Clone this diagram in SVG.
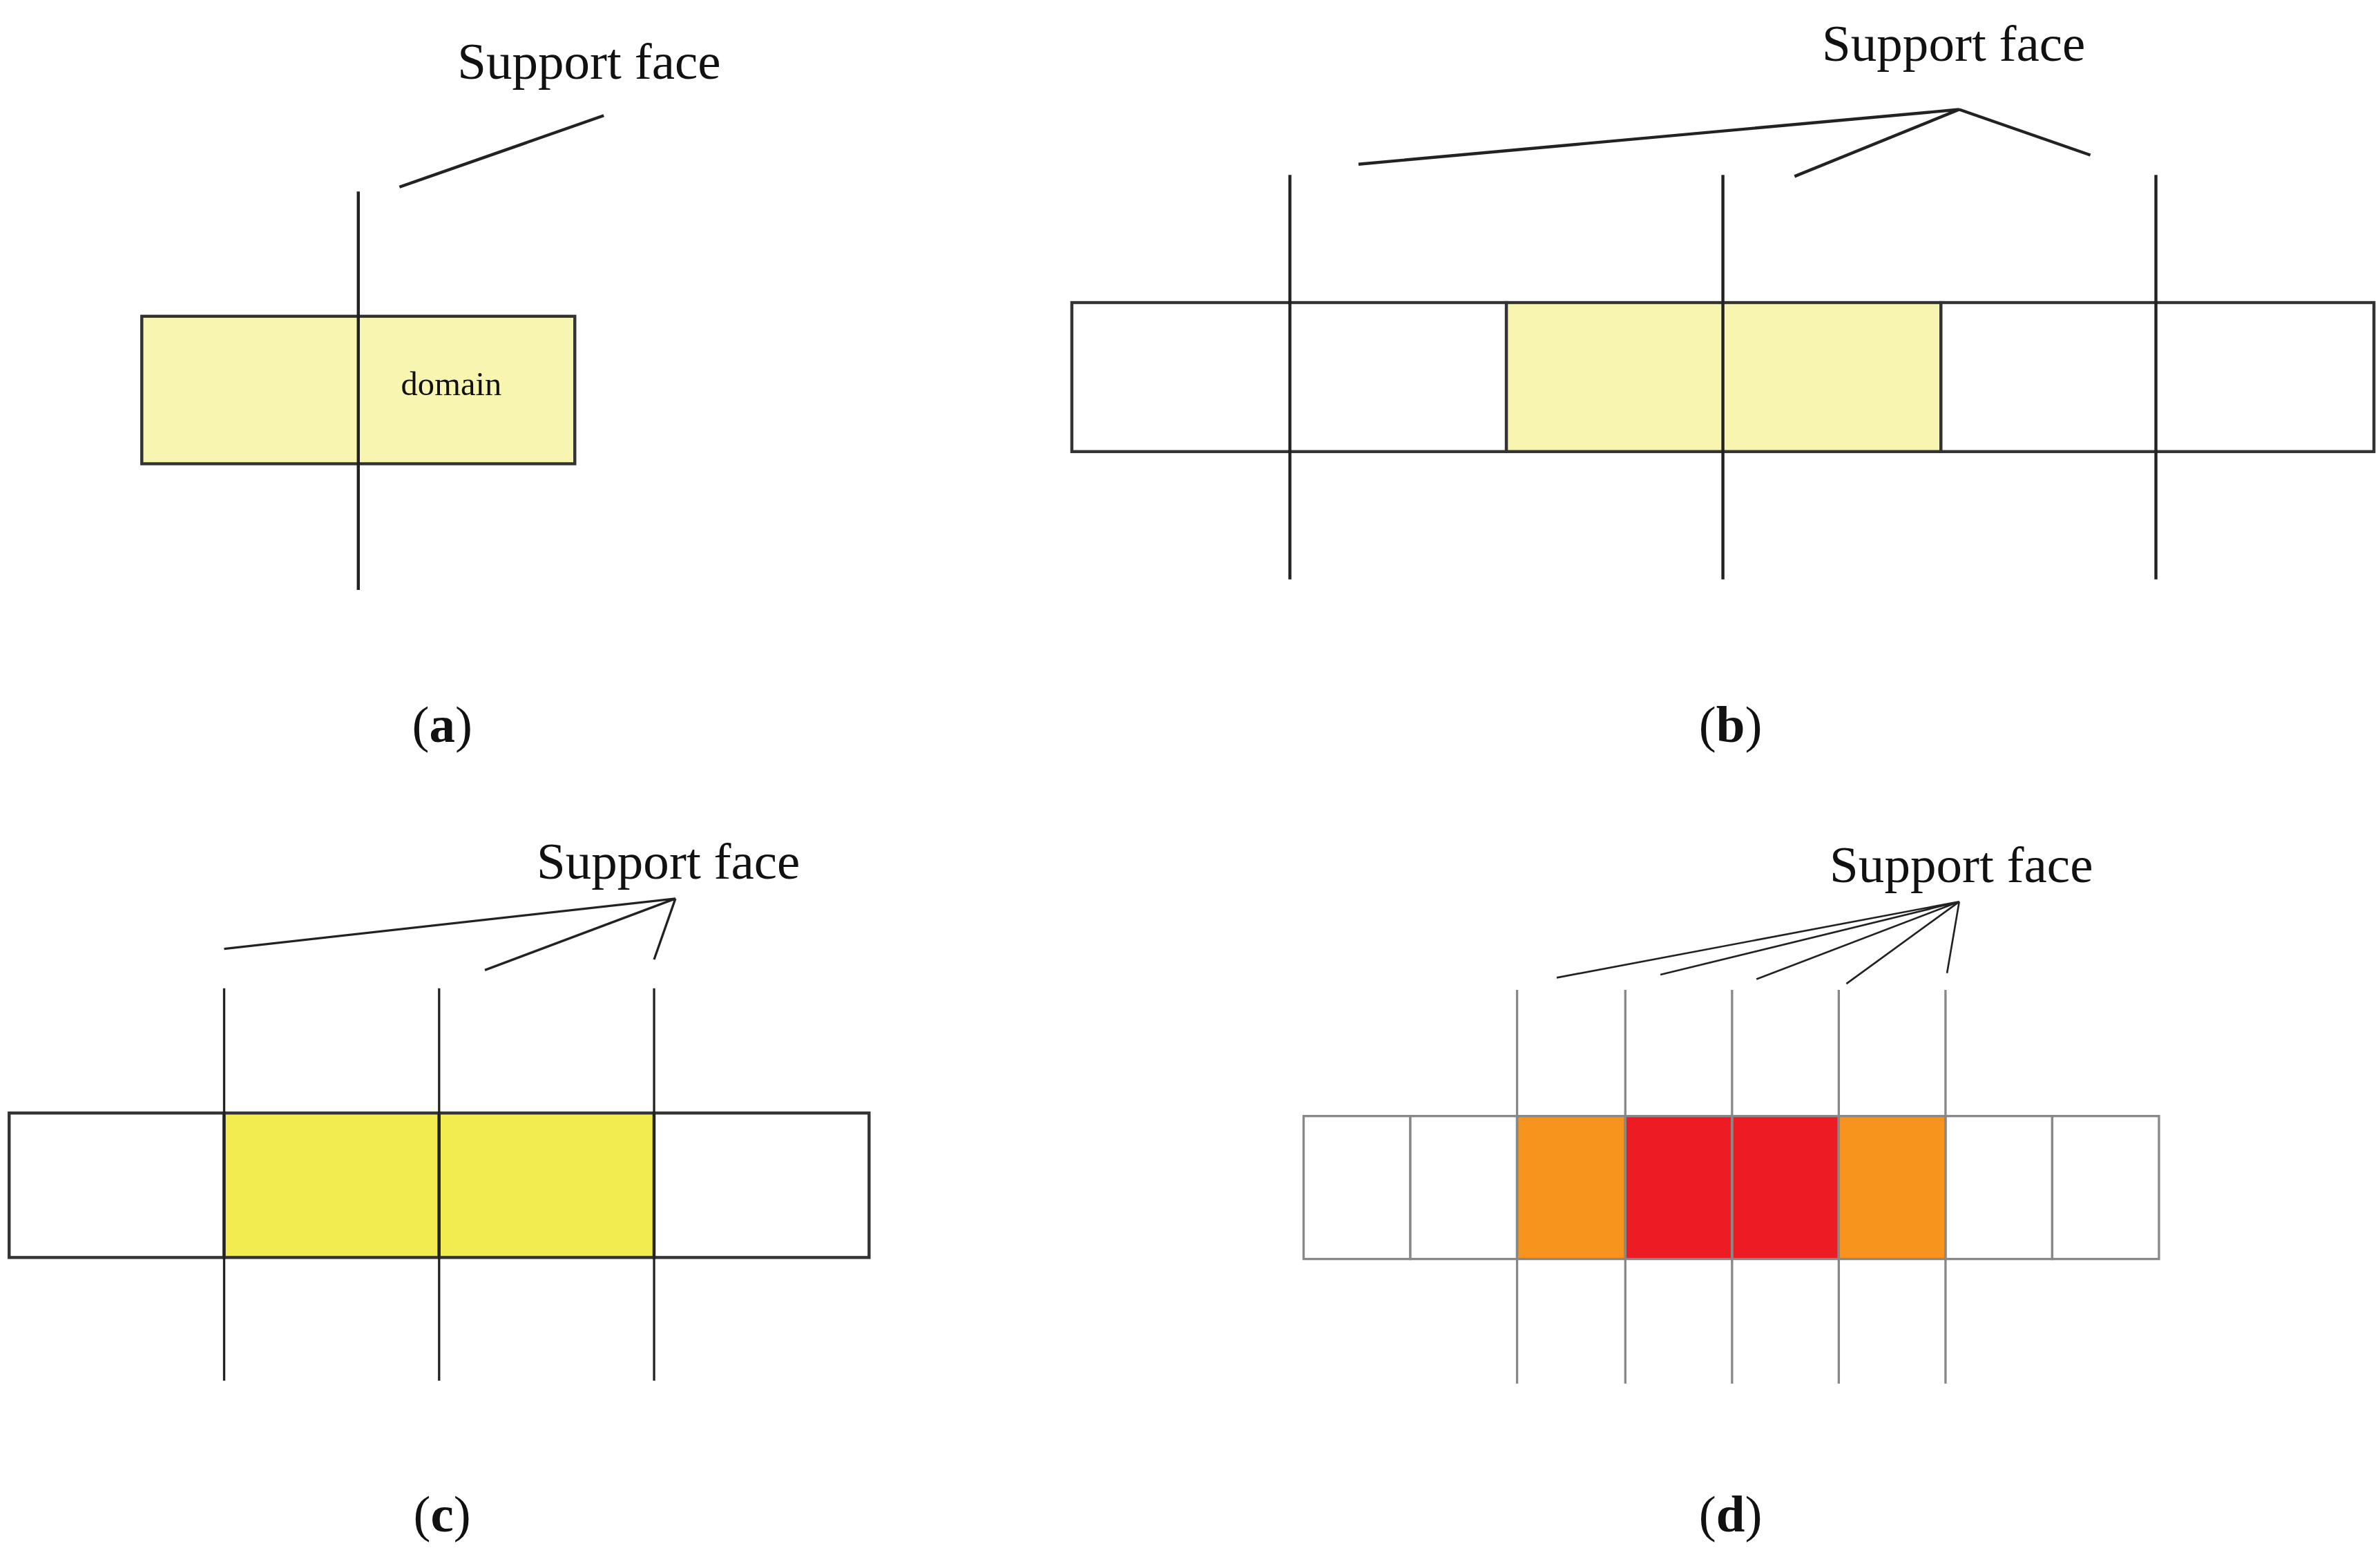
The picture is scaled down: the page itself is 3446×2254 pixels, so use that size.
<svg xmlns="http://www.w3.org/2000/svg" width="3446" height="2254" viewBox="0 0 3446 2254">
<style>
.t{font-family:"Liberation Serif","Times New Roman",serif;font-size:34px;fill:#111}
.c{font-family:"Liberation Serif","Times New Roman",serif;font-size:34px;fill:#111;text-anchor:middle}
.k{stroke:#222;stroke-width:2;fill:none}
.g{stroke:#888;stroke-width:1.5;fill:none}
.cell{stroke:#333;stroke-width:2}
.cellg{stroke:#888;stroke-width:1.5}
</style>
<rect width="3446" height="2254" fill="#fff"/>
<g transform="scale(2.2076 2.2012)">
<g id="panel-a">
<rect class="cell" x="93" y="208" width="284" height="97" fill="#f8f5b1"/>
<text class="t" x="300" y="52">Support face</text>
<text class="t" x="263" y="260" style="font-size:22px">domain</text>
<text class="c" x="290" y="488">(<tspan font-weight="bold">a</tspan>)</text>
</g>
<g id="panel-b">
<rect class="cell" x="703" y="199" width="285" height="98" fill="#fff"/>
<rect class="cell" x="988" y="199" width="285" height="98" fill="#f8f5b1"/>
<rect class="cell" x="1273" y="199" width="284" height="98" fill="#fff"/>
<text class="t" x="1195" y="40">Support face</text>
<text class="c" x="1135" y="488">(<tspan font-weight="bold">b</tspan>)</text>
</g>
<g id="panel-c">
<rect class="cell" x="6" y="732" width="141" height="95" fill="#fff"/>
<rect class="cell" x="147" y="732" width="141" height="95" fill="#f3ec50"/>
<rect class="cell" x="288" y="732" width="141" height="95" fill="#f3ec50"/>
<rect class="cell" x="429" y="732" width="141" height="95" fill="#fff"/>
<text class="t" x="352" y="578">Support face</text>
<text class="c" x="290" y="1007">(<tspan font-weight="bold">c</tspan>)</text>
</g>
<g id="panel-d">
<rect class="cellg" x="855" y="734" width="70" height="94" fill="#fff"/>
<rect class="cellg" x="925" y="734" width="70" height="94" fill="#fff"/>
<rect class="cellg" x="995" y="734" width="71" height="94" fill="#f7941d"/>
<rect class="cellg" x="1066" y="734" width="70" height="94" fill="#ed1c24"/>
<rect class="cellg" x="1136" y="734" width="70" height="94" fill="#ed1c24"/>
<rect class="cellg" x="1206" y="734" width="70" height="94" fill="#f7941d"/>
<rect class="cellg" x="1276" y="734" width="70" height="94" fill="#fff"/>
<rect class="cellg" x="1346" y="734" width="70" height="94" fill="#fff"/>
<text class="t" x="1200" y="580">Support face</text>
<text class="c" x="1135" y="1007">(<tspan font-weight="bold">d</tspan>)</text>
</g>
<g id="connectors">
<path class="k" d="M235 126V388M262 123L396 76"/>
<path class="k" d="M846 115V381M1130 115V381M1414 115V381M891 108L1285 72L1177 116M1285 72L1371 102"/>
<path class="k" style="stroke-width:1.5" d="M147 650V908M288 650V908M429 650V908M147 624L443 591L318 638M443 591L429 631"/>
<path class="g" d="M995 651V910M1066 651V910M1136 651V910M1206 651V910M1276 651V910"/>
<path class="k" style="stroke-width:1.2" d="M1021 643L1285 593L1089 641M1285 593L1152 644M1285 593L1211 647M1285 593L1277 640"/>
</g>
</g>
</svg>
